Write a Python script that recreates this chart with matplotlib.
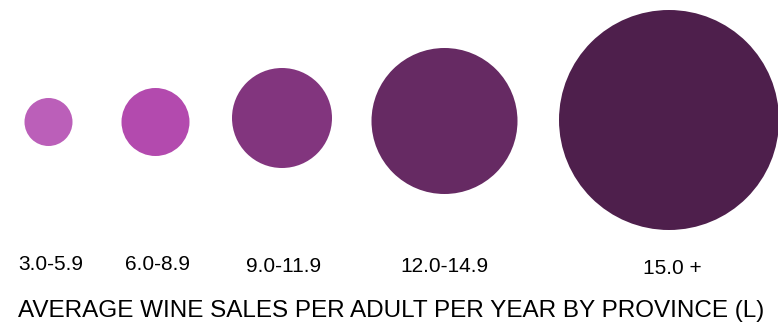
import matplotlib.pyplot as plt
from matplotlib.patches import Circle

# legend classes and the bubble radius used for each (px)
categories = ["3.0-5.9", "6.0-8.9", "9.0-11.9", "12.0-14.9", "15.0 +"]
radii = [24, 34, 50, 73, 110]
colors = ["#bb5fb9", "#b34aae", "#82357e", "#662a63", "#4e1f4c"]

# layout (pixel coordinates)
centers_x = [48.5, 155.5, 282, 444.5, 669]
centers_y = [122, 122, 118, 121, 120]
label_x = [51, 158, 284, 444, 672]
label_y = [265, 264, 266, 266, 269]

plt.rcParams['font.family'] = ['Liberation Sans', 'DejaVu Sans']

fig = plt.figure(figsize=(7.78, 3.24), dpi=100)
ax = fig.add_axes([0, 0, 1, 1])
ax.set_xlim(0, 778)
ax.set_ylim(324, 0)
ax.set_aspect('equal')
ax.axis('off')

for cx, cy, r, c in zip(centers_x, centers_y, radii, colors):
    ax.add_patch(Circle((cx, cy), r, facecolor=c, edgecolor='none'))

for x, y, lab in zip(label_x, label_y, categories):
    ax.text(x, y, lab, ha='center', va='center', fontsize=15, color='black')

ax.text(391, 311, "AVERAGE WINE SALES PER ADULT PER YEAR BY PROVINCE (L)",
        ha='center', va='center', fontsize=17.5, color='black')

fig.savefig("out.png", dpi=100)
